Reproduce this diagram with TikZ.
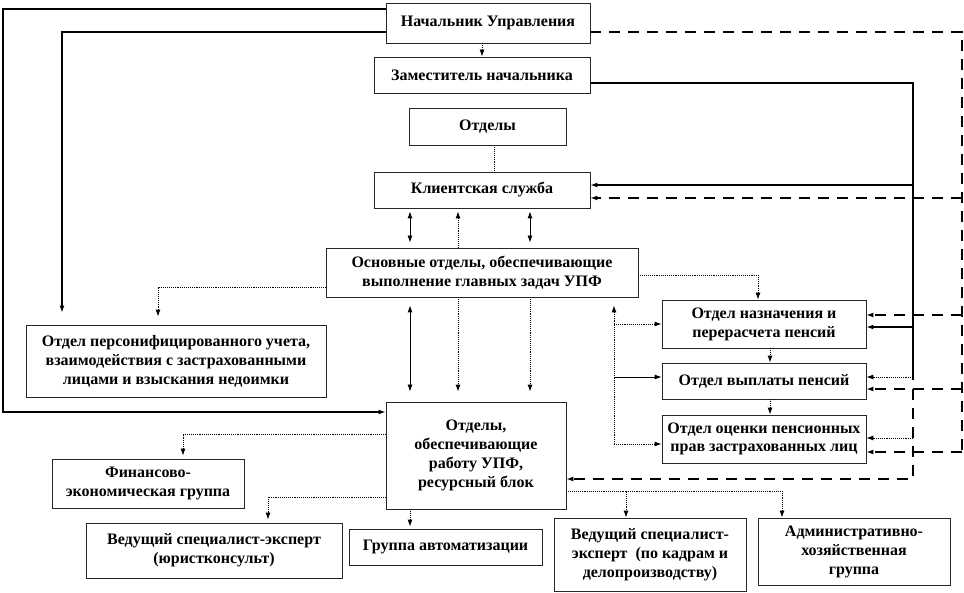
\documentclass[tikz,border=0pt]{standalone}
\usepackage{fontspec}
\setmainfont{Liberation Serif}
\usetikzlibrary{arrows.meta,calc}
\begin{document}
\begin{tikzpicture}[x=1pt,y=-1pt,
  box/.style={draw=black!85, line width=0.8pt, align=center, inner sep=2pt,
    font=\bfseries\fontsize{16}{19}\selectfont},
  thinl/.style={line width=0.8pt},
  dots/.style={line width=0.9pt, densely dotted},
  heavy/.style={line width=2pt},
  dsh/.style={line width=2.2pt, dash pattern=on 11pt off 8pt},
  >={Latex[length=7pt,width=5pt]}]
\useasboundingbox (0,0) rectangle (964,593);

% boxes
\node[box, minimum width=204pt, minimum height=40pt] (nach) at (488,23) {Начальник Управления};
\node[box, minimum width=216pt, minimum height=36pt] (zam) at (482,75) {Заместитель начальника};
\node[box, minimum width=157pt, minimum height=37pt] (otd) at (487.5,126.5) {Отделы};
\node[box, minimum width=216pt, minimum height=36pt] (kl) at (482,190) {Клиентская служба};
\node[box, minimum width=312pt, minimum height=49pt] (osn) at (482,272.5) {Основные отделы, обеспечивающие\\выполнение главных задач УПФ};
\node[box, minimum width=300pt, minimum height=72pt] (pers) at (176,361) {Отдел персонифицированного учета,\\взаимодействия с застрахованными\\лицами и взыскания недоимки};
\node[box, minimum width=180pt, minimum height=107pt] (rab) at (476,455.5) {Отделы,\\обеспечивающие\\работу УПФ,\\ресурсный блок};
\node[box, minimum width=192pt, minimum height=49pt] (fin) at (148,483.5) {Финансово-\\экономическая группа};
\node[box, minimum width=256pt, minimum height=55pt] (yur) at (214,550.5) {Ведущий специалист-эксперт\\(юристконсульт)};
\node[box, minimum width=193pt, minimum height=36pt] (avt) at (445.5,547) {Группа автоматизации};
\node[box, minimum width=192pt, minimum height=73pt] (kadr) at (650,554.5) {Ведущий специалист-\\эксперт~ (по кадрам и\\делопроизводству)};
\node[box, minimum width=192pt, minimum height=67pt] (adm) at (854,551.5) {Административно-\\хозяйственная\\группа};
\node[box, minimum width=204pt, minimum height=48pt] (nazn) at (764,324) {Отдел назначения и\\перерасчета пенсий};
\node[box, minimum width=204pt, minimum height=36pt] (vypl) at (764,381) {Отдел выплаты пенсий};
\node[box, minimum width=204pt, minimum height=48pt, font=\bfseries\fontsize{16}{18}\selectfont] (ocen) at (764,439) {Отдел оценки пенсионных\\прав застрахованных лиц};

% outer left line from Начальник to ресурсный блок
\coordinate (o1) at (3,9);
\coordinate (o2) at (3,412);
\draw[line width=1.3pt,->] (nach.west |- o1) -- (o1) -- (o2) -- (rab.west |- o2);

% Начальник -> Отдел персонифицированного учета
\coordinate (p1) at (62,32);
\draw[heavy,->,shorten >=12pt] (nach.west |- p1) -| (pers.north -| p1);

% Основные -> Отдел персонифицированного учета
\coordinate (p2) at (158,287);
\draw[dots,->,shorten >=8pt] (osn.west |- p2) -| (pers.north -| p2);

% Начальник -> Заместитель
\draw[dots,->] (zam.north |- nach.south) -- (zam.north);

% Отделы -- Клиентская
\coordinate (q1) at (494,0);
\draw[dots] (otd.south -| q1) -- (kl.north -| q1);

% Клиентская <-> Основные
\coordinate (c1) at (410,0);
\coordinate (c2) at (458,0);
\coordinate (c3) at (530,0);
\draw[thinl,<->,shorten <=3pt,shorten >=5pt] (kl.south -| c1) -- (osn.north -| c1);
\draw[dots,->,shorten >=3pt] (osn.north -| c2) -- (kl.south -| c2);
\draw[thinl,<->,shorten <=3pt,shorten >=5pt] (kl.south -| c3) -- (osn.north -| c3);

% Основные <-> ресурсный блок
\draw[thinl,<->,shorten <=8pt,shorten >=10pt] (osn.south -| c1) -- (rab.north -| c1);
\draw[dots,->,shorten >=10pt] (osn.south -| c2) -- (rab.north -| c2);
\draw[dots,->,shorten >=10pt] (osn.south -| c3) -- (rab.north -| c3);

% Основные -> Отдел назначения
\coordinate (r1) at (758,275);
\draw[dots,->] (osn.east |- r1) -| (nazn.north -| r1);

% branch at x=614
\coordinate (b0) at (614,444);
\coordinate (b1) at (614,324);
\coordinate (b2) at (614,377);
\draw[dots,->,shorten >=8pt] (b0) -- (osn.south -| b0);
\draw[dots,->] (b0) -- (ocen.west |- b0);
\draw[dots,->] (b1) -- (nazn.west |- b1);
\draw[thinl,->] (b2) -- (vypl.west |- b2);

% chain of pension departments
\coordinate (v1) at (770,0);
\draw[dots,->] (nazn.south -| v1) -- (vypl.north -| v1);
\draw[dots,->] (vypl.south -| v1) -- (ocen.north -| v1);

% solid system from Заместитель
\coordinate (s0) at (913,83);
\coordinate (s1) at (913,380);
\coordinate (s2) at (913,185);
\coordinate (s3) at (913,327);
\coordinate (s4) at (913,377);
\draw[heavy] (zam.east |- s0) -- (s0) -- (s1);
\draw[heavy,->] (s2) -- (kl.east |- s2);
\draw[heavy,->] (s3) -- (nazn.east |- s3);
\draw[dots,->] (s4) -- (vypl.east |- s4);

% dashed system from Начальник
\coordinate (d0) at (962,32);
\coordinate (d1) at (962,452);
\coordinate (d2) at (962,198);
\coordinate (d3) at (962,315);
\coordinate (d4) at (962,389);
\coordinate (e1) at (913,389);
\coordinate (e2) at (913,479);
\coordinate (e3) at (913,438);
\draw[dsh] (nach.east |- d0) -- (d0) -- (d1);
\draw[dsh,->] (d1) -- (ocen.east |- d1);
\draw[dsh,->] (d2) -- (kl.east |- d2);
\draw[dsh,->] (d3) -- (nazn.east |- d3);
\draw[dsh,->] (d4) -- (vypl.east |- d4);
\draw[dsh,->] (e1) -- (e2) -- (rab.east |- e2);
\draw[dots,->] (e3) -- (ocen.east |- e3);

% ресурсный блок -> subordinate groups
\coordinate (g1) at (183,434);
\coordinate (g2) at (268,497);
\coordinate (g3) at (410,0);
\coordinate (g4) at (626,491);
\coordinate (g5) at (782,491);
\draw[dots,->,shorten >=3pt] (rab.west |- g1) -| (fin.north -| g1);
\draw[dots,->,shorten >=3pt] (rab.west |- g2) -| (yur.north -| g2);
\draw[dots,->,shorten >=2pt] (rab.south -| g3) -- (avt.north -| g3);
\draw[dots,->] (rab.east |- g4) -| (kadr.north -| g4);
\draw[dots,->] (g4) -| (adm.north -| g5);
\end{tikzpicture}
\end{document}
